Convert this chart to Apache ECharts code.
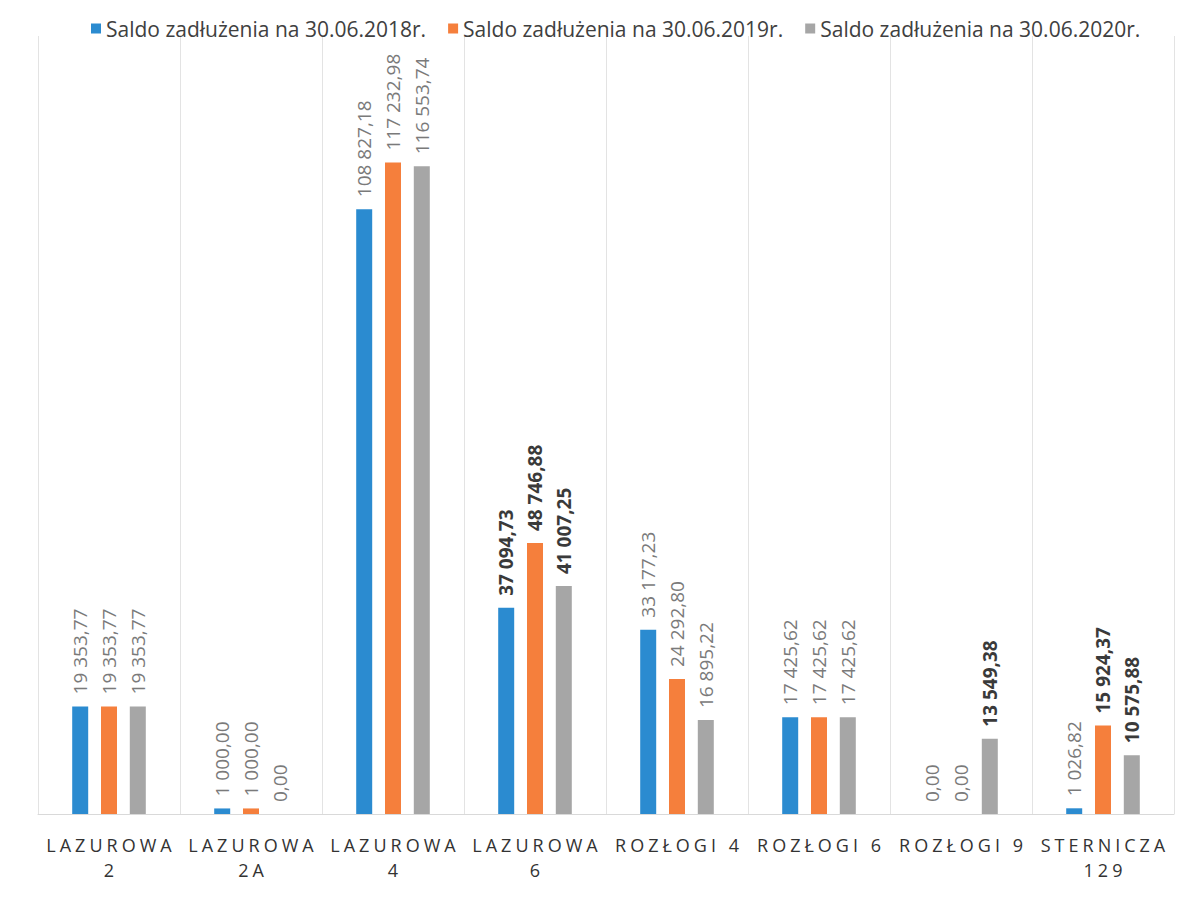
<!DOCTYPE html>
<html>
<head>
<meta charset="utf-8">
<script src="https://cdn.jsdelivr.net/npm/echarts@6/dist/echarts.min.js"></script>
<style>
  html, body { margin: 0; padding: 0; background: #fff; }
  #chart { width: 1192px; height: 900px; }
</style>
</head>
<body>
<div id="chart"></div>
<script>
// Debt balances per building, three reporting dates
const categories = ['LAZUROWA\n2', 'LAZUROWA\n2A', 'LAZUROWA\n4', 'LAZUROWA\n6',
                    'ROZŁOGI 4', 'ROZŁOGI 6', 'ROZŁOGI 9', 'STERNICZA\n129'];
const seriesNames = ['Saldo zadłużenia na 30.06.2018r.',
                     'Saldo zadłużenia na 30.06.2019r.',
                     'Saldo zadłużenia na 30.06.2020r.'];
const saldo2018 = [19353.77, 1000.00, 108827.18, 37094.73, 33177.23, 17425.62, 0.00, 1026.82];
const saldo2019 = [19353.77, 1000.00, 117232.98, 48746.88, 24292.80, 17425.62, 0.00, 15924.37];
const saldo2020 = [19353.77, 0.00, 116553.74, 41007.25, 16895.22, 17425.62, 13549.38, 10575.88];
// category indexes whose value labels are emphasised (bold)
const boldIdx2018 = [3];
const boldIdx2019 = [3, 7];
const boldIdx2020 = [3, 6, 7];

const colors = ['#2b8bd0', '#f57f3c', '#a6a6a6'];

function fmt(v) {
  const parts = v.toFixed(2).split('.');
  const intPart = parts[0].replace(/\B(?=(\d{3})+(?!\d))/g, ' ');
  return intPart + ',' + parts[1];
}

function buildData(values, boldIdx) {
  return values.map((v, i) => boldIdx.includes(i)
    ? { value: v, label: { fontWeight: 'bold', color: '#3a3a3a' } }
    : { value: v });
}

const valueLabel = {
  show: true,
  position: 'top',
  rotate: 90,
  align: 'left',
  verticalAlign: 'middle',
  distance: 12,
  fontFamily: 'Open Sans',
  fontSize: 19,
  color: '#7a7a7a',
  formatter: p => fmt(p.value)
};

function makeSeries(name, values, boldIdx, color) {
  return {
    name: name,
    type: 'bar',
    data: buildData(values, boldIdx),
    barWidth: 16,
    barGap: '80%',
    barCategoryGap: '48%',
    itemStyle: { color: color },
    label: valueLabel
  };
}

const chart = echarts.init(document.getElementById('chart'), null, { renderer: 'svg' });
chart.setOption({
  animation: false,
  backgroundColor: '#ffffff',
  legend: {
    top: 13,
    left: 86,
    icon: 'rect',
    itemWidth: 10,
    itemHeight: 10,
    itemGap: 22,
    textStyle: { fontFamily: 'Open Sans', fontSize: 21, color: '#404040' },
    data: seriesNames
  },
  grid: { left: 38, right: 18, top: 36, bottom: 86 },
  xAxis: {
    type: 'category',
    data: categories,
    axisLine: { show: true, lineStyle: { color: '#d9d9d9', width: 1 } },
    axisTick: { show: false },
    splitLine: { show: true, lineStyle: { color: '#e3e3e3', width: 1 } },
    axisLabel: {
      interval: 0,
      margin: 18,
      fontFamily: 'Open Sans',
      fontSize: 18,
      lineHeight: 25,
      color: '#333333'
    }
  },
  yAxis: {
    type: 'value',
    min: 0,
    max: 140000,
    show: false,
    splitLine: { show: false }
  },
  series: [
    makeSeries(seriesNames[0], saldo2018, boldIdx2018, colors[0]),
    makeSeries(seriesNames[1], saldo2019, boldIdx2019, colors[1]),
    makeSeries(seriesNames[2], saldo2020, boldIdx2020, colors[2])
  ]
});

// widen the tracking of the category axis labels
(function spaceAxisLabels() {
  const lines = new Set();
  categories.forEach(c => c.split('\n').forEach(l => lines.add(l)));
  const spacing = 4;
  document.querySelectorAll('#chart svg text').forEach(t => {
    if (lines.has(t.textContent)) {
      t.setAttribute('letter-spacing', spacing + 'px');
      t.setAttribute('dx', (spacing / 2) + 'px');
    }
  });
})();
</script>
</body>
</html>
